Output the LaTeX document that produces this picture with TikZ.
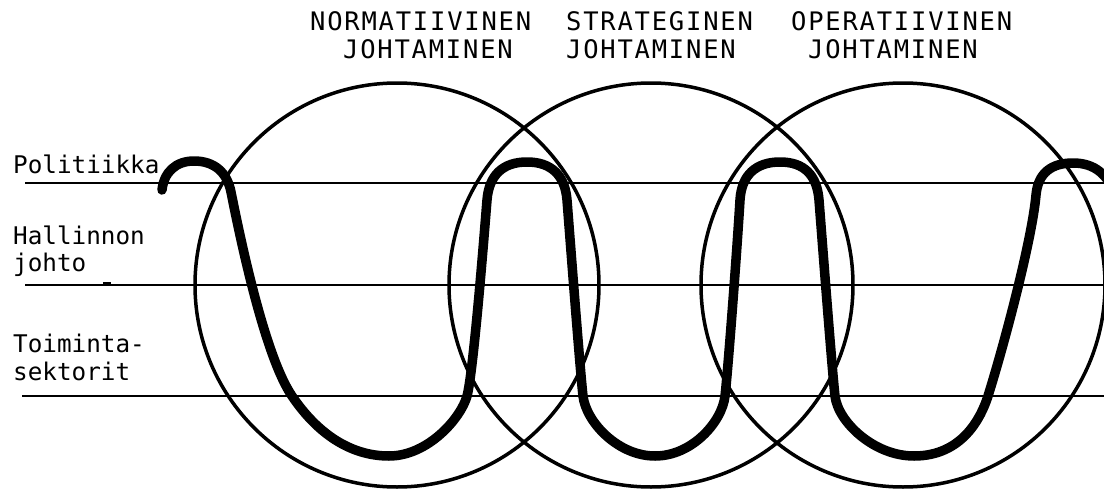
\documentclass[tikz,border=0pt]{standalone}
\usepackage{fontspec}
\newfontfamily\labfont{DejaVu Sans Mono}
\newfontfamily\headfont[LetterSpace=7]{DejaVu Sans Mono}
\begin{document}
\begin{tikzpicture}[x=1pt,y=-1pt,
  levelline/.style={line width=1.7pt},
  circ/.style={line width=3.5pt},
  wave/.style={line width=9.5pt,line cap=round,line join=round},
  headtext/.style={anchor=base west,inner sep=0pt,font=\headfont\fontsize{25.5}{28}\selectfont},
  sidetext/.style={anchor=base west,inner sep=0pt,font=\labfont\fontsize{24.3}{27}\selectfont}]
\useasboundingbox (0,0) rectangle (1104,490);
\begin{scope}
\clip (0,0) rectangle (1104,490);
% level lines
\draw[levelline] (25,183) -- (1104,183);
\draw[levelline] (25,285) -- (1104,285);
\draw[levelline] (22,396) -- (1104,396);
\draw[line width=2.5pt] (103,283) -- (111,283);
% circles
\draw[circ] (397,285) circle[radius=202];
\draw[circ] (651,285) circle[radius=202];
\draw[circ] (903,285) circle[radius=202];
% wave
\draw[wave] (162,190)
  .. controls (164,172) and (176,161) .. (194,161)
  .. controls (214,161) and (227,172) .. (231,192)
  .. controls (239,232) and (264,355) .. (292,396)
  .. controls (317,433) and (350,456) .. (389,456)
  .. controls (428,456) and (461,418) .. (467,396)
  .. controls (473,374) and (483,250) .. (487,200)
  .. controls (489,175) and (503,162) .. (527,162)
  .. controls (551,162) and (565,175) .. (567,200)
  .. controls (569,225) and (580,370) .. (583,396)
  .. controls (586,422) and (618,456) .. (655,456)
  .. controls (692,456) and (722,422) .. (725,396)
  .. controls (728,370) and (737,250) .. (740,200)
  .. controls (741.5,175) and (756,162) .. (780,162)
  .. controls (804,162) and (817,175) .. (819,200)
  .. controls (821,225) and (832,370) .. (835,396)
  .. controls (838,422) and (874,456) .. (914,456)
  .. controls (962,456) and (981,418) .. (988,396)
  .. controls (1004,345) and (1032,240) .. (1036,195)
  .. controls (1038,172.5) and (1052,163) .. (1073,163)
  .. controls (1095,163) and (1108,175) .. (1115,195);
\end{scope}
% headings
\node[headtext] (h1a) at (310,30) {NORMATIIVINEN};
\node[headtext] (h1b) at (343,58) {JOHTAMINEN};
\node[headtext] (h2a) at (566,30) {STRATEGINEN};
\node[headtext] (h2b) at (566,58) {JOHTAMINEN};
\node[headtext] (h3a) at (791,30) {OPERATIIVINEN};
\node[headtext] (h3b) at (808,58) {JOHTAMINEN};
% side labels
\node[sidetext] (l1) at (13,173) {Politiikka};
\node[sidetext] (l2a) at (13,244) {Hallinnon};
\node[sidetext] (l2b) at (13,271) {johto};
\node[sidetext] (l3a) at (13,352) {Toiminta-};
\node[sidetext] (l3b) at (13,380) {sektorit};
\end{tikzpicture}
\end{document}
